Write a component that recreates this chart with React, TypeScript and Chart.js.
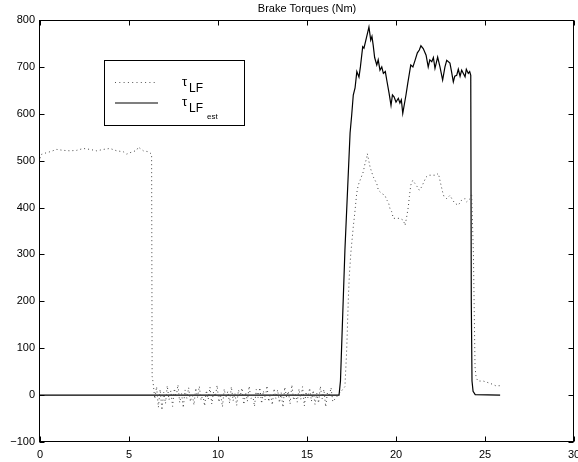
import React, { useEffect, useRef } from "react";
import { Chart, registerables } from "chart.js";

Chart.register(...registerables);

const TITLE = "Brake Torques (Nm)";
const X_TICKS = [0, 5, 10, 15, 20, 25, 30];
const Y_TICKS = [-100, 0, 100, 200, 300, 400, 500, 600, 700, 800];

// tau_LF (measured, dotted) — segment before release
const measTimesA = [0, 0.1, 0.56, 0.94, 1.3, 1.69, 2.06, 2.43, 2.81, 3.18, 3.56, 3.93, 4.31, 4.68, 4.87, 5.06, 5.43, 5.52, 5.81, 6.09, 6.27, 6.3];
const measValuesA = [505, 514, 519, 524, 522, 521, 522, 526, 524, 521, 524, 526, 521, 519, 514, 517, 522, 529, 521, 519, 514, 40];

// tau_LF noise while not braking (sampled every 0.1 s from 6.35 s)
const noiseStart = 6.35;
const noiseStep = 0.1;
const noiseValues = [
  28, -8, 18, -26, 12, -32, 6, -18, 20, -10, 9, -24, 14, -4, 22, -16, 5, -27, 11, -7, 16, -14, 3, -21, 15, -5, 19, -11, 1, -23,
  10, -9, 17, -19, 7, -3, 21, -15, 2, -25, 13, -6, 8, -17, 18, -12, 4, -22, 11, -2,
  15, -20, 6, -13, 19, -8, 0, -24, 12, -5, 16, -18, 9, -10, 20, -14, 3, -21, 14, -7,
  11, -16, 5, -26, 17, -4, 8, -19, 22, -11, 1, -15, 13, -9, 18, -23, 7, -6, 15, -13,
  10, -20, 4, -17, 19, -8, 12, -25, 6, -3, 16, -14,
];

// tau_LF — braking segment
const measTimesB = [17.13, 17.23, 17.32, 17.38, 17.46, 17.60, 17.70, 17.79, 17.88, 18.02, 18.16, 18.26, 18.35, 18.39, 18.54, 18.63, 18.73, 18.92, 19.01, 19.20, 19.38, 19.48, 19.57, 19.66, 19.76, 19.85, 20.04, 20.22, 20.41, 20.51, 20.60, 20.69, 20.75, 20.83, 20.94, 21.07, 21.20, 21.31, 21.44, 21.57, 21.69, 21.82, 22.00, 22.25, 22.38, 22.51, 22.62, 22.70, 22.85, 23.03, 23.18, 23.31, 23.50, 23.69, 23.88, 23.97, 24.16, 24.25, 24.35, 24.44, 24.50, 24.60, 24.90, 25.30, 25.60, 25.85];
const measValuesB = [18, 96, 203, 256, 302, 359, 394, 430, 448, 462, 476, 494, 505, 515, 487, 476, 465, 451, 437, 430, 426, 416, 412, 398, 391, 377, 377, 377, 373, 362, 380, 401, 423, 448, 458, 451, 444, 437, 444, 455, 465, 469, 469, 469, 473, 451, 433, 423, 419, 426, 416, 409, 405, 416, 419, 412, 419, 430, 300, 60, 38, 30, 30, 25, 20, 20];

// tau_LF_est (solid)
const estTimes = [0, 16.8, 16.88, 17.13, 17.42, 17.51, 17.60, 17.70, 17.80, 17.92, 18.00, 18.13, 18.20, 18.35, 18.42, 18.48, 18.58, 18.65, 18.72, 18.80, 18.92, 19.00, 19.10, 19.20, 19.29, 19.40, 19.48, 19.61, 19.72, 19.80, 19.89, 20.00, 20.13, 20.22, 20.30, 20.38, 20.56, 20.66, 20.83, 20.95, 21.07, 21.20, 21.31, 21.40, 21.53, 21.69, 21.81, 21.90, 22.01, 22.10, 22.19, 22.34, 22.47, 22.62, 22.75, 22.85, 23.03, 23.12, 23.22, 23.30, 23.41, 23.50, 23.60, 23.69, 23.80, 23.88, 23.95, 24.06, 24.14, 24.20, 24.23, 24.27, 24.33, 24.45, 25.85];
const estValues = [0, 0, 30, 309, 559, 597, 640, 655, 690, 678, 700, 743, 740, 764, 775, 785, 757, 765, 746, 720, 704, 715, 693, 700, 686, 690, 672, 644, 618, 640, 636, 625, 633, 623, 630, 601, 640, 665, 704, 700, 714, 730, 736, 745, 739, 725, 700, 715, 711, 720, 697, 721, 700, 672, 700, 714, 708, 690, 668, 680, 682, 695, 680, 693, 685, 679, 695, 686, 690, 682, 200, 30, 8, 1, 0];

const FONT = "'Liberation Sans', Arial, Helvetica, sans-serif";

function zip(t: number[], v: number[]) {
  return t.map((x, i) => ({ x, y: v[i] }));
}

const matlabPlugin = {
  id: "matlabFrame",
  afterDraw(chart: any) {
    const { ctx, chartArea: a, scales } = chart;
    const xs = scales.x;
    const ys = scales.y;
    ctx.save();
    ctx.strokeStyle = "#000";
    ctx.lineWidth = 1;
    const L = Math.round(a.left) - 0.5;
    const R = Math.round(a.right) - 0.5;
    const T = Math.round(a.top) + 0.5;
    const B = Math.round(a.bottom) - 0.5;
    ctx.strokeRect(L, T, R - L, B - T);
    ctx.beginPath();
    const tl = 5;
    X_TICKS.forEach((v) => {
      const p = Math.round(xs.getPixelForValue(v)) + 0.5;
      ctx.moveTo(p, B);
      ctx.lineTo(p, B - tl);
      ctx.moveTo(p, T);
      ctx.lineTo(p, T + tl);
    });
    Y_TICKS.forEach((v) => {
      const p = Math.round(ys.getPixelForValue(v)) + 0.5;
      ctx.moveTo(L, p);
      ctx.lineTo(L + tl, p);
      ctx.moveTo(R, p);
      ctx.lineTo(R - tl, p);
    });
    ctx.stroke();

    // title
    ctx.fillStyle = "#000";
    ctx.font = `11px ${FONT}`;
    ctx.textAlign = "center";
    ctx.textBaseline = "middle";
    ctx.fillText(TITLE, (a.left + a.right) / 2, 9);

    // legend
    const lx = 104.5, ly = 60.5, lw = 140, lh = 65;
    ctx.fillStyle = "#fff";
    ctx.fillRect(lx, ly, lw, lh);
    ctx.strokeStyle = "#000";
    ctx.lineWidth = 1;
    ctx.strokeRect(lx, ly, lw, lh);

    ctx.save();
    ctx.strokeStyle = "#555";
    ctx.setLineDash([1, 3.3]);
    ctx.beginPath();
    ctx.moveTo(115, 82.5);
    ctx.lineTo(158, 82.5);
    ctx.stroke();
    ctx.restore();

    ctx.beginPath();
    ctx.lineWidth = 1.2;
    ctx.moveTo(115, 103);
    ctx.lineTo(158, 103);
    ctx.stroke();

    ctx.fillStyle = "#000";
    ctx.textAlign = "left";
    ctx.textBaseline = "alphabetic";
    ctx.font = `13px ${FONT}`;
    ctx.fillText("\u03C4", 182, 86);
    ctx.fillText("\u03C4", 182, 106);
    ctx.font = `12px ${FONT}`;
    ctx.fillText("LF", 189, 92);
    ctx.fillText("LF", 189, 112);
    ctx.font = `8px ${FONT}`;
    ctx.fillText("est", 207, 119);
    ctx.restore();
  },
};

export default function App() {
  const ref = useRef<HTMLCanvasElement | null>(null);

  useEffect(() => {
    if (!ref.current) return;
    const noisePts = noiseValues.map((y, i) => ({ x: noiseStart + i * noiseStep, y }));
    const measData = [...zip(measTimesA, measValuesA), ...noisePts, ...zip(measTimesB, measValuesB)];
    const estData = zip(estTimes, estValues);

    const chart = new Chart(ref.current, {
      type: "line",
      data: {
        datasets: [
          {
            label: "tau_LF",
            data: measData,
            borderColor: "#444",
            borderWidth: 1,
            borderDash: [1, 3],
            pointRadius: 0,
            tension: 0,
          },
          {
            label: "tau_LF_est",
            data: estData,
            borderColor: "#000",
            borderWidth: 1.2,
            pointRadius: 0,
            tension: 0,
          },
        ],
      },
      options: {
        responsive: false,
        animation: false,
        layout: { padding: { top: 20, right: 4, left: 0, bottom: 0 } },
        plugins: {
          legend: { display: false },
          title: { display: false },
          tooltip: { enabled: false },
        },
        scales: {
          x: {
            type: "linear",
            min: 0,
            max: 30,
            grid: { display: false, drawTicks: false },
            border: { display: false },
            ticks: {
              stepSize: 5,
              padding: 6,
              color: "#000",
              font: { family: FONT, size: 11 },
              maxRotation: 0,
            },
            afterFit: (s: any) => {
              s.height = 20;
              s.paddingLeft = 0;
              s.paddingRight = 0;
            },
          },
          y: {
            min: -100,
            max: 800,
            grid: { display: false, drawTicks: false },
            border: { display: false },
            ticks: {
              stepSize: 100,
              padding: 5,
              color: "#000",
              font: { family: FONT, size: 11 },
              callback: (v: any) => (Number(v) < 0 ? "\u2212" + Math.abs(Number(v)) : String(v)),
            },
            afterFit: (s: any) => {
              s.width = 40;
              s.paddingTop = 0;
              s.paddingBottom = 0;
            },
          },
        },
      },
      plugins: [matlabPlugin],
    });
    return () => chart.destroy();
  }, []);

  return (
    <div style={{ position: "absolute", left: 0, top: 0, width: 578, height: 462, background: "#fff" }}>
      <canvas ref={ref} width={578} height={462} />
    </div>
  );
}
